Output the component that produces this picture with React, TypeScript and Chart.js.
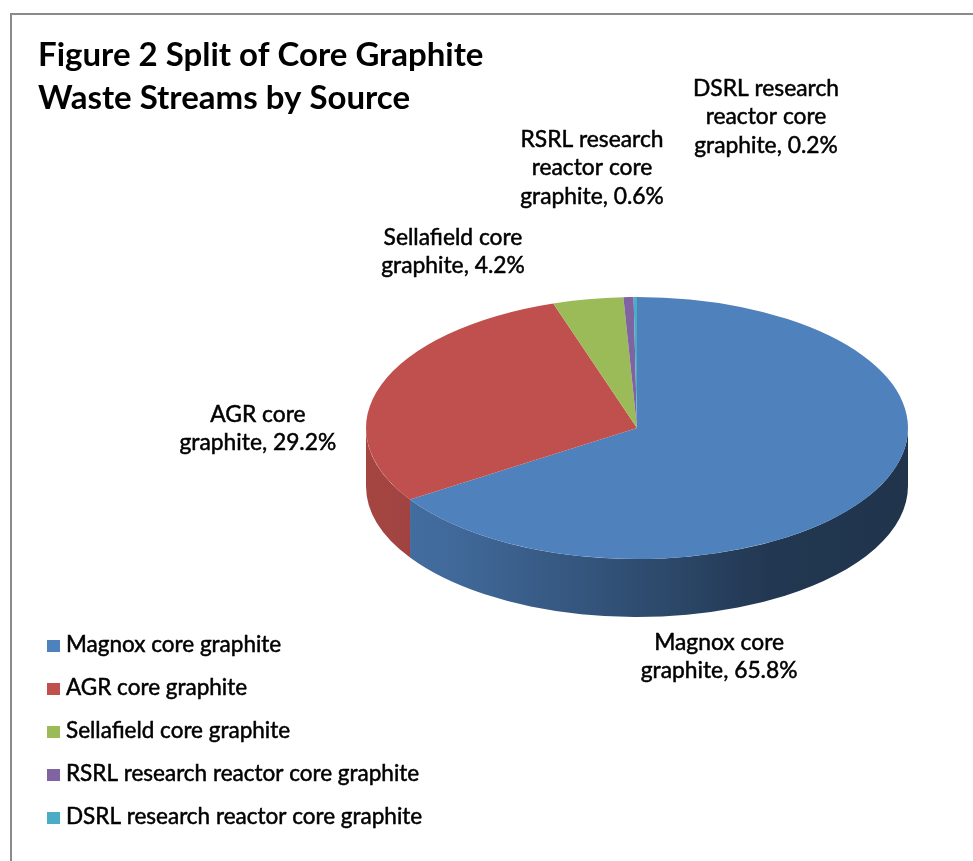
import { useEffect, useRef } from 'react';
import { Chart, registerables } from 'chart.js';

Chart.register(...registerables);

// ---- data ----
const categories = [
  'Magnox core graphite',
  'AGR core graphite',
  'Sellafield core graphite',
  'RSRL research reactor core graphite',
  'DSRL research reactor core graphite',
];
const shares = [65.8, 29.2, 4.2, 0.6, 0.2];
const sliceColors = ['#4F81BD', '#C0504D', '#9BBB59', '#8064A2', '#4BACC6'];
const titleLines = ['Figure 2 Split of Core Graphite', 'Waste Streams by Source'];

// ---- styling / layout ----
const FONT = 'Lato, "Noto Sans", sans-serif';
const TILT = 131 / 271;
const DEPTH = 58;
const SIDE_STOPS: [number, number][] = [
  [0, 0.86],
  [0.15, 0.82],
  [0.5, 0.6],
  [0.75, 0.43],
  [1, 0.4],
];
// label block placement (first baseline) relative to pie centre, in radius units
const LABEL_PLACE: [number, number][] = [
  [0.303, 0.819],
  [-1.399, -0.022],
  [-0.679, -0.675],
  [-0.166, -1.037],
  [0.476, -1.225],
];

function shade(hex: string, f: number) {
  const n = parseInt(hex.slice(1), 16);
  const r = Math.round(((n >> 16) & 255) * f);
  const g = Math.round(((n >> 8) & 255) * f);
  const b = Math.round((n & 255) * f);
  return `rgb(${r},${g},${b})`;
}

function frontSegments(s: number, e: number): [number, number][] {
  const out: [number, number][] = [];
  for (let k = -1; k <= 1; k++) {
    const a = 2 * Math.PI * k;
    const b = a + Math.PI;
    const lo = Math.max(a, s);
    const hi = Math.min(b, e);
    if (hi > lo) out.push([lo, hi]);
  }
  return out;
}

function wrapText(ctx: CanvasRenderingContext2D, text: string, maxW: number) {
  const words = text.split(' ');
  const lines: string[] = [];
  let cur = '';
  for (const w of words) {
    const t = cur ? cur + ' ' + w : w;
    if (cur && ctx.measureText(t).width > maxW) {
      lines.push(cur);
      cur = w;
    } else cur = t;
  }
  if (cur) lines.push(cur);
  return lines;
}

function heavyText(ctx: CanvasRenderingContext2D, t: string, x: number, y: number, w: number) {
  ctx.fillText(t, x, y);
  if (w > 0) {
    ctx.lineWidth = w;
    ctx.strokeStyle = ctx.fillStyle as string;
    ctx.strokeText(t, x, y);
  }
}

const pie3d = {
  id: 'pie3d',
  beforeDatasetsDraw(chart: any) {
    const ctx: CanvasRenderingContext2D = chart.ctx;
    const meta = chart.getDatasetMeta(0);
    const first = meta.data[0];
    const cx = first.x;
    const cy = first.y;
    const r = first.outerRadius;
    const ry = r * TILT;
    ctx.save();
    meta.data.forEach((arc: any, i: number) => {
      frontSegments(arc.startAngle, arc.endAngle).forEach(([s, e]) => {
        const grad = ctx.createLinearGradient(cx - r, 0, cx + r, 0);
        SIDE_STOPS.forEach(([p, f]) => grad.addColorStop(p, shade(sliceColors[i], f)));
        ctx.beginPath();
        ctx.ellipse(cx, cy, r, ry, 0, s, e, false);
        ctx.ellipse(cx, cy + DEPTH, r, ry, 0, e, s, true);
        ctx.closePath();
        ctx.fillStyle = grad;
        ctx.fill();
      });
    });
    ctx.restore();
    ctx.save();
    ctx.translate(cx, cy);
    ctx.scale(1, TILT);
    ctx.translate(-cx, -cy);
  },
  afterDatasetsDraw(chart: any) {
    chart.ctx.restore();
  },
};

const decorations = {
  id: 'decorations',
  afterDraw(chart: any) {
    const ctx: CanvasRenderingContext2D = chart.ctx;
    const meta = chart.getDatasetMeta(0);
    const first = meta.data[0];
    const cx = first.x;
    const cy = first.y;
    const r = first.outerRadius;
    ctx.save();
    // frame
    ctx.strokeStyle = '#8a8a8a';
    ctx.lineWidth = 2;
    ctx.beginPath();
    ctx.moveTo(11, chart.height + 2);
    ctx.lineTo(11, 14);
    ctx.lineTo(chart.width + 2, 14);
    ctx.stroke();

    // title
    ctx.fillStyle = '#000';
    ctx.textAlign = 'left';
    ctx.textBaseline = 'alphabetic';
    ctx.font = `bold 33px ${FONT}`;
    titleLines.forEach((t, i) => heavyText(ctx, t, 38, 66 + i * 43, 0));

    // data labels
    ctx.font = `22.8px ${FONT}`;
    ctx.textAlign = 'center';
    categories.forEach((c, i) => {
      const lines = wrapText(ctx, `${c}, ${shares[i].toFixed(1)}%`, 175);
      const [px, py] = LABEL_PLACE[i];
      lines.forEach((ln, j) => heavyText(ctx, ln, cx + px * r, cy + py * r + j * 28.3, 0.5));
    });

    // legend
    ctx.textAlign = 'left';
    ctx.font = `22.5px ${FONT}`;
    categories.forEach((c, i) => {
      const base = 652 + i * 43;
      ctx.fillStyle = sliceColors[i];
      ctx.fillRect(47, base - 12, 13, 12);
      ctx.fillStyle = '#000';
      heavyText(ctx, c, 66, base, 0.5);
    });
    ctx.restore();
  },
};

export default function App() {
  const ref = useRef<HTMLCanvasElement>(null);
  useEffect(() => {
    if (!ref.current) return;
    const chart = new Chart(ref.current, {
      type: 'pie',
      data: {
        labels: categories,
        datasets: [
          {
            data: shares,
            backgroundColor: sliceColors,
            borderWidth: 0,
            clip: false as any,
          },
        ],
      },
      options: {
        responsive: false,
        animation: false,
        devicePixelRatio: 1,
        layout: { padding: { left: 366, right: 65, top: 157, bottom: 162 } },
        plugins: {
          legend: { display: false },
          title: { display: false },
          tooltip: { enabled: false },
        },
      },
      plugins: [pie3d, decorations],
    });
    return () => chart.destroy();
  }, []);
  return (
    <div style={{ position: 'absolute', left: 0, top: 0, width: 973, height: 861, background: '#fff' }}>
      <canvas ref={ref} width={973} height={861} />
    </div>
  );
}
